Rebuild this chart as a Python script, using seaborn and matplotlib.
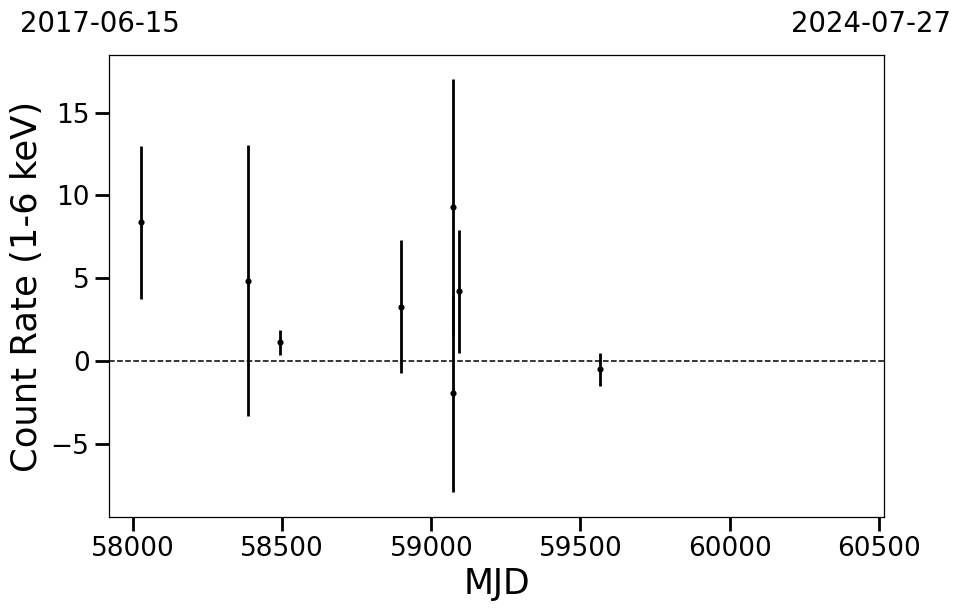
"""
Light curve: count rate (1-6 keV) vs MJD, with per-epoch error bars.
"""

import matplotlib
matplotlib.use("Agg")
import matplotlib.pyplot as plt
import pandas as pd
import seaborn as sns

# ── Data ─────────────────────────────────────────────────────────────────────
mjd = [58027, 58386, 58493, 58898, 59072, 59072, 59092, 59567]
rate = [8.36, 4.85, 1.11, 3.28, 9.28, -1.97, 4.19, -0.52]
rate_err = [4.63, 8.20, 0.73, 4.00, 7.73, 5.94, 3.73, 0.98]

date_start = "2017-06-15"
date_end = "2024-07-27"
mjd_start = 57919
mjd_end = 60518

df = pd.DataFrame({"MJD": mjd, "rate": rate, "err": rate_err})

# ── Plot ──────────────────────────────────────────────────────────────────────
sns.set_style("ticks")
plt.rcParams["font.family"] = ["DejaVu Sans"]
plt.rcParams["text.color"] = "black"
plt.rcParams["axes.labelcolor"] = "black"

fig = plt.figure(figsize=(9.62, 6.13), dpi=100)
ax = fig.add_axes([109 / 962, 1 - 517 / 613, 775 / 962, 462 / 613])

ax.errorbar(df["MJD"], df["rate"], yerr=df["err"], fmt="none",
            ecolor="black", elinewidth=2, capsize=0, zorder=2)
sns.scatterplot(data=df, x="MJD", y="rate", ax=ax, color="black",
                s=20, edgecolor="black", linewidth=0, zorder=3, legend=False)
ax.axhline(0, color="black", ls="--", lw=1.1, zorder=1)

ax.set_xlim(mjd_start, mjd_end)
ax.set_ylim(-9.44, 18.48)
ax.set_xticks([58000, 58500, 59000, 59500, 60000, 60500])
ax.set_yticks([-5, 0, 5, 10, 15])

ax.set_xlabel("MJD", fontsize=25, labelpad=3)
ax.set_ylabel("Count Rate (1-6 keV)", fontsize=25.5, labelpad=5)
ax.tick_params(axis="both", labelsize=19, length=10, width=2, pad=4,
               color="black", labelcolor="black")
for sp in ax.spines.values():
    sp.set_visible(True)
    sp.set_linewidth(0.9)
    sp.set_color("black")

fig.text(20 / 962, 1 - 32 / 613, date_start, fontsize=19.8, ha="left", va="baseline")
fig.text(951 / 962, 1 - 32 / 613, date_end, fontsize=19.8, ha="right", va="baseline")

fig.savefig("out.png", dpi=100)
